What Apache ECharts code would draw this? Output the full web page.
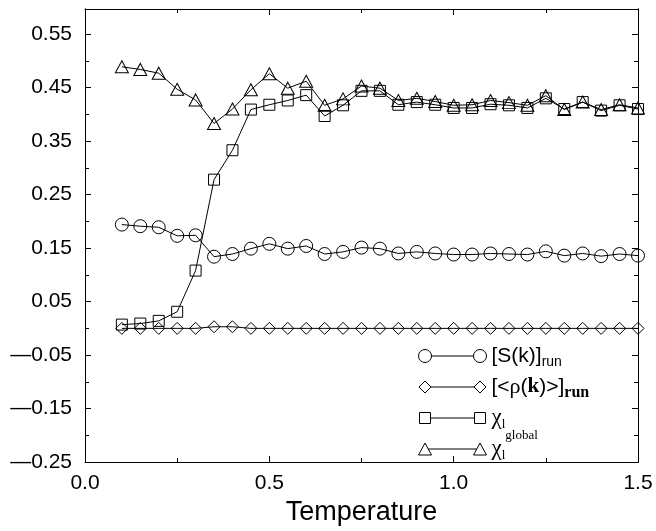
<!DOCTYPE html>
<html>
<head>
<meta charset="utf-8">
<script src="https://cdn.jsdelivr.net/npm/echarts@6/dist/echarts.min.js"></script>
<style>
  html, body { margin: 0; padding: 0; background: #fff; }
  #chart { width: 656px; height: 531px; }
</style>
</head>
<body>
<div id="chart"></div>
<script>
// ---- data ----
var temperature = [0.10, 0.15, 0.20, 0.25, 0.30, 0.35, 0.40, 0.45, 0.50, 0.55,
                   0.60, 0.65, 0.70, 0.75, 0.80, 0.85, 0.90, 0.95, 1.00, 1.05,
                   1.10, 1.15, 1.20, 1.25, 1.30, 1.35, 1.40, 1.45, 1.50];
var sRun = [0.194, 0.191, 0.189, 0.173, 0.174, 0.134, 0.139, 0.149, 0.158, 0.149,
            0.154, 0.139, 0.143, 0.151, 0.149, 0.140, 0.143, 0.140, 0.138, 0.138,
            0.140, 0.139, 0.138, 0.144, 0.136, 0.140, 0.135, 0.139, 0.136];
var rhoRun = [0.000, 0.000, 0.000, 0.000, 0.000, 0.003, 0.003, 0.000, 0.000, 0.000,
              0.000, 0.000, 0.000, 0.000, 0.000, 0.000, 0.000, 0.000, 0.000, 0.000,
              0.000, 0.000, 0.000, 0.000, 0.000, 0.000, 0.000, 0.000, 0.000];
var chiGlobal = [0.007, 0.009, 0.014, 0.031, 0.108, 0.278, 0.333, 0.409, 0.418, 0.426,
                 0.436, 0.397, 0.417, 0.444, 0.444, 0.418, 0.423, 0.418, 0.412, 0.412,
                 0.419, 0.417, 0.412, 0.430, 0.410, 0.423, 0.407, 0.417, 0.410];
var chiL = [0.489, 0.484, 0.477, 0.447, 0.427, 0.383, 0.410, 0.446, 0.476, 0.449,
            0.462, 0.417, 0.429, 0.453, 0.449, 0.426, 0.430, 0.424, 0.417, 0.418,
            0.426, 0.422, 0.417, 0.435, 0.409, 0.423, 0.409, 0.418, 0.412];
var xTicks = [0.0, 0.5, 1.0, 1.5];
var yTicks = [-0.25, -0.15, -0.05, 0.05, 0.15, 0.25, 0.35, 0.45, 0.55];
var xLabel = 'Temperature';
var seriesNames = ['S', 'rho', 'chiG', 'chi'];

function pairs(ys) { return temperature.map(function (t, i) { return [t, ys[i]]; }); }

var SANS = 'Liberation Sans';
var SERIF = 'Liberation Serif';
var X_MIN = xTicks[0], X_MAX = xTicks[xTicks.length - 1];
var Y_MIN = yTicks[0], Y_MAX = 0.597;

function yFmt(v) {
  for (var i = 0; i < yTicks.length; i++) {
    if (Math.abs(v - yTicks[i]) < 1e-6) return yTicks[i].toFixed(2).replace('-', '\u2014');
  }
  return '';
}
function xFmt(v) { return v.toFixed(1); }

var black = '#000';
function yAx(pos, interval, len, labels) {
  return {
    type: 'value', position: pos, min: Y_MIN, max: Y_MAX, interval: interval,
    axisLine: { show: true, lineStyle: { color: black, width: 1 } },
    axisTick: { show: true, inside: true, length: len, lineStyle: { color: black } },
    axisLabel: { show: labels, formatter: yFmt, color: black, fontFamily: SANS, fontSize: 21,
                 margin: 13, showMaxLabel: false },
    splitLine: { show: false }
  };
}
function xAx(pos, labels) {
  var a = {
    type: 'value', position: pos, min: X_MIN, max: X_MAX, interval: 0.5,
    axisLine: { show: true, onZero: false, lineStyle: { color: black, width: 1 } },
    axisTick: { show: true, inside: true, length: 6, lineStyle: { color: black } },
    minorTick: { show: true, splitNumber: 2, length: 4, lineStyle: { color: black } },
    axisLabel: { show: labels, formatter: xFmt, color: black, fontFamily: SANS, fontSize: 21, margin: 11 },
    splitLine: { show: false }, minorSplitLine: { show: false }
  };
  if (labels) {
    a.name = xLabel; a.nameLocation = 'middle'; a.nameGap = 34;
    a.nameTextStyle = { color: black, fontFamily: SANS, fontSize: 27 };
  }
  return a;
}

function mkSeries(name, ys, symbol, size) {
  return {
    name: name, type: 'line', data: pairs(ys), xAxisIndex: 0, yAxisIndex: 0,
    symbol: symbol, symbolSize: size, showSymbol: true, showAllSymbol: true,
    lineStyle: { color: black, width: 1 },
    itemStyle: { color: 'transparent', borderColor: black, borderWidth: 1 },
    emphasis: { disabled: true }, silent: true, z: 3
  };
}

// legend icons: marker - line - marker, drawn in a 68 x 60 box (centre line y = 30)
var icons = {
  S: 'path://M0,30 A6.5,6.5 0 1 1 13,30 A6.5,6.5 0 1 1 0,30 Z M13,30 L55,30 M55,30 A6.5,6.5 0 1 1 68,30 A6.5,6.5 0 1 1 55,30 Z M0,0 M68,60',
  rho: 'path://M0.5,30 L6.5,24 L12.5,30 L6.5,36 Z M12.5,30 L55.5,30 M55.5,30 L61.5,24 L67.5,30 L61.5,36 Z M0,0 M68,60',
  chiG: 'path://M1,24.5 L12,24.5 L12,35.5 L1,35.5 Z M12,30 L56,30 M56,24.5 L67,24.5 L67,35.5 L56,35.5 Z M0,0 M68,60',
  chi: 'path://M6.5,24 L13,36 L0,36 Z M9.75,30 L58.25,30 M61.5,24 L68,36 L55,36 Z M0,0 M68,60'
};
var labels = {
  S: '{m|[S(k)]}{sub|run}',
  rho: '{m2|[<}{g|\u03c1}{m2|(}{kb|k}{m2|)>]}{subb|run}',
  chiG: '{chi|\u03c7}{l|l}{glob|global}',
  chi: '{chi|\u03c7}{l|l}'
};

var option = {
  animation: false,
  backgroundColor: '#fff',
  grid: { left: 85, right: 18, top: 9, bottom: 62.5, containLabel: false, show: false },
  xAxis: [xAx('bottom', true), xAx('top', false)],
  yAxis: [yAx('left', 0.1, 6, true), yAx('left', 0.05, 4, false),
          yAx('right', 0.1, 6, false), yAx('right', 0.05, 4, false)],
  legend: {
    orient: 'vertical', left: 418, top: 325.5, padding: 0, itemGap: -30,
    itemWidth: 68, itemHeight: 60, selectedMode: false,
    itemStyle: { color: 'transparent', borderColor: black, borderWidth: 1 },
    data: seriesNames.map(function (n) { return { name: n, icon: icons[n] }; }),
    formatter: function (n) { return labels[n]; },
    textStyle: {
      color: black, fontFamily: SANS, fontSize: 20,
      rich: {
        m: { fontFamily: SANS, fontSize: 21, lineHeight: 40, color: black },
        sub: { fontFamily: SANS, fontSize: 14, lineHeight: 28, padding: [12, 0, 0, 0], color: black },
        m2: { fontFamily: SANS, fontSize: 21, lineHeight: 40, color: black },
        g: { fontFamily: SERIF, fontSize: 22, lineHeight: 40, color: black },
        kb: { fontFamily: SERIF, fontSize: 21, fontWeight: 'bold', lineHeight: 40, color: black },
        subb: { fontFamily: SERIF, fontSize: 16, fontWeight: 'bold', lineHeight: 28, padding: [12, 0, 0, 0], color: black },
        chi: { fontFamily: SERIF, fontSize: 23, lineHeight: 40, color: black },
        l: { fontFamily: SERIF, fontSize: 13, lineHeight: 26, padding: [14, 0, 0, 0], color: black },
        glob: { fontFamily: SERIF, fontSize: 13, lineHeight: 4, padding: [36, 0, 0, 0], color: black }
      }
    }
  },
  series: [
    mkSeries('S', sRun, 'circle', 13),
    mkSeries('rho', rhoRun, 'diamond', 12),
    mkSeries('chiG', chiGlobal, 'rect', 11),
    mkSeries('chi', chiL, 'triangle', [13, 12])
  ]
};

var chart = echarts.init(document.getElementById('chart'), null, { renderer: 'canvas' });
chart.setOption(option);
</script>
</body>
</html>
